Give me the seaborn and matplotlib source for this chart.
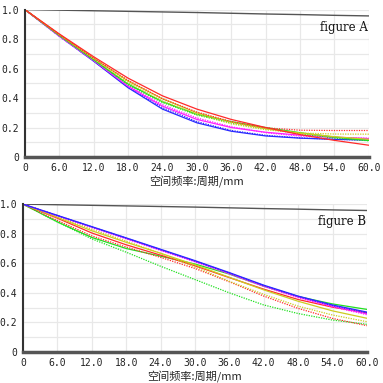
import numpy as np
import pandas as pd
import matplotlib
matplotlib.use("Agg")
import matplotlib.pyplot as plt
import seaborn as sns

sns.set_theme(style="white")
plt.rcParams['font.family'] = ['DejaVu Sans Mono', 'Noto Sans CJK SC']

# spatial frequency (cycles/mm)
freq = [0, 6, 12, 18, 24, 30, 36, 42, 48, 54, 60]
diff_limit = [1.0, 0.996, 0.992, 0.988, 0.984, 0.980, 0.975, 0.970, 0.966, 0.961, 0.957]

# figure A: solid = tangential, dotted = sagittal
a_blue_t = [1.0, 0.82, 0.65, 0.47, 0.325, 0.232, 0.175, 0.143, 0.128, 0.12, 0.115]
a_blue_s = [1.0, 0.82, 0.652, 0.475, 0.335, 0.24, 0.18, 0.147, 0.13, 0.12, 0.115]
a_mag_t = [1.0, 0.82, 0.655, 0.48, 0.345, 0.255, 0.20, 0.168, 0.148, 0.135, 0.125]
a_mag_s = [1.0, 0.82, 0.655, 0.485, 0.355, 0.265, 0.205, 0.165, 0.142, 0.132, 0.128]
a_green_t = [1.0, 0.825, 0.66, 0.495, 0.375, 0.29, 0.24, 0.20, 0.165, 0.135, 0.112]
a_green_s = [1.0, 0.825, 0.66, 0.49, 0.37, 0.285, 0.232, 0.192, 0.158, 0.128, 0.11]
a_yel_t = [1.0, 0.83, 0.67, 0.515, 0.395, 0.30, 0.237, 0.192, 0.162, 0.138, 0.12]
a_yel_s = [1.0, 0.83, 0.665, 0.505, 0.38, 0.29, 0.225, 0.185, 0.163, 0.156, 0.155]
a_red_t = [1.0, 0.835, 0.68, 0.535, 0.415, 0.325, 0.255, 0.20, 0.152, 0.113, 0.08]
a_red_s = [1.0, 0.83, 0.67, 0.52, 0.395, 0.305, 0.24, 0.198, 0.182, 0.18, 0.18]

# figure B
b_blue_t = [1.0, 0.924, 0.848, 0.772, 0.695, 0.618, 0.537, 0.452, 0.378, 0.318, 0.27]
b_blue_s = [1.0, 0.923, 0.846, 0.77, 0.692, 0.615, 0.534, 0.449, 0.375, 0.314, 0.265]
b_mag_t = [1.0, 0.922, 0.845, 0.768, 0.69, 0.613, 0.532, 0.447, 0.372, 0.31, 0.258]
b_mag_s = [1.0, 0.92, 0.842, 0.765, 0.687, 0.61, 0.528, 0.443, 0.368, 0.305, 0.252]
b_green_t = [1.0, 0.88, 0.775, 0.70, 0.648, 0.595, 0.527, 0.445, 0.375, 0.325, 0.288]
b_green_s = [1.0, 0.88, 0.765, 0.675, 0.58, 0.49, 0.40, 0.318, 0.26, 0.216, 0.187]
b_yel_t = [1.0, 0.91, 0.82, 0.742, 0.668, 0.59, 0.505, 0.42, 0.343, 0.278, 0.228]
b_yel_s = [1.0, 0.915, 0.83, 0.75, 0.667, 0.575, 0.478, 0.39, 0.31, 0.25, 0.205]
b_red_t = [1.0, 0.905, 0.805, 0.725, 0.655, 0.583, 0.503, 0.425, 0.355, 0.303, 0.265]
b_red_s = [1.0, 0.89, 0.785, 0.71, 0.64, 0.565, 0.475, 0.378, 0.295, 0.227, 0.178]

colors = {"blue": "#2a2aff", "mag": "#ff20ff", "green": "#20e020",
          "yel": "#cccc20", "red": "#ff2a2a"}

panel_a = [("blue", a_blue_t, a_blue_s), ("mag", a_mag_t, a_mag_s),
           ("green", a_green_t, a_green_s), ("yel", a_yel_t, a_yel_s),
           ("red", a_red_t, a_red_s)]
panel_b = [("green", b_green_t, b_green_s), ("red", b_red_t, b_red_s),
           ("yel", b_yel_t, b_yel_s), ("mag", b_mag_t, b_mag_s),
           ("blue", b_blue_t, b_blue_s)]

fig = plt.figure(figsize=(3.83, 3.83), dpi=100)
ax_a = fig.add_axes([0.065, 0.590, 0.898, 0.385])
ax_b = fig.add_axes([0.060, 0.081, 0.898, 0.386])


def draw_panel(ax, series, label):
    for x in np.arange(0, 61, 6):
        ax.axvline(x, color="#e8e8e8", lw=0.9, zorder=0)
    for y in np.arange(0.1, 1.01, 0.1):
        ax.axhline(y, color="#e8e8e8", lw=0.9, zorder=0)
    sns.lineplot(x=freq, y=diff_limit, color="#555555", lw=1.0, ax=ax)
    for key, tan, sag in series:
        sns.lineplot(x=freq, y=sag, color=colors[key], lw=0.9,
                     linestyle=(0, (1, 1)), ax=ax)
        sns.lineplot(x=freq, y=tan, color=colors[key], lw=0.9, ax=ax)
    ax.set_xlim(0, 60)
    ax.set_ylim(0, 1.0)
    ax.set_xticks(np.arange(0, 61, 6))
    ax.set_xticklabels(["0"] + [f"{v:.1f}" for v in range(6, 61, 6)])
    ax.set_yticks([0, 0.2, 0.4, 0.6, 0.8, 1.0])
    ax.set_yticklabels(["0", "0.2", "0.4", "0.6", "0.8", "1.0"])
    ax.tick_params(labelsize=7, length=0, pad=4, colors="#222222")
    for s in ["top", "right"]:
        ax.spines[s].set_visible(False)
    ax.spines["left"].set_color("#333333")
    ax.spines["left"].set_linewidth(1.5)
    ax.spines["bottom"].set_color("#555555")
    ax.spines["bottom"].set_linewidth(2.5)
    ax.set_xlabel("空间频率:周期/mm", fontsize=8, labelpad=2,
                  family=["Noto Sans CJK SC", "DejaVu Sans"])
    ax.set_ylabel("")
    ax.text(59.8, 0.88, label, ha="right", va="center", fontsize=8.5,
            family="DejaVu Serif", color="#111111")


draw_panel(ax_a, panel_a, "figure A")
draw_panel(ax_b, panel_b, "figure B")

fig.savefig("out.png", dpi=100)
